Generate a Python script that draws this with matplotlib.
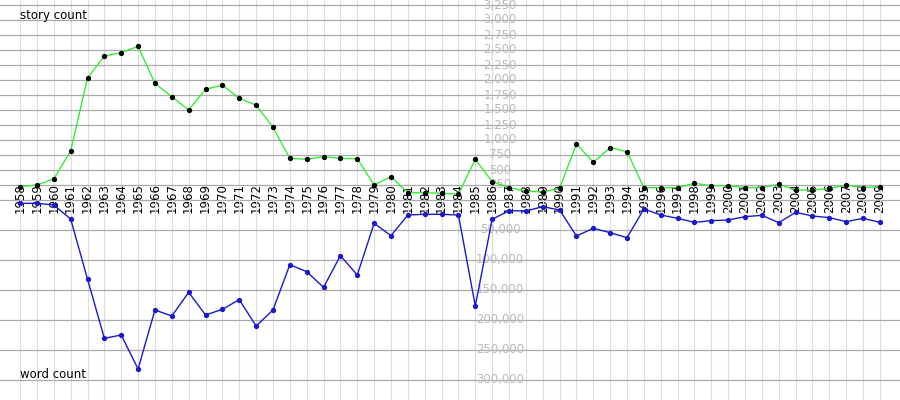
import numpy as np
import matplotlib
matplotlib.use("Agg")
import matplotlib.pyplot as plt

# datos
years = list(range(1958, 2010))
story_count = [222, 250, 350, 817, 2033, 2400, 2456, 2561, 1944, 1722,
               1500, 1844, 1917, 1694, 1583, 1211, 694, 678, 722, 694,
               689, 250, 389, 122, 122, 111, 100, 678, 306, 206,
               150, 133, 194, 933, 628, 872, 806, 206, 206, 206,
               278, 239, 239, 206, 206, 261, 167, 167, 194, 250,
               206, 222]
word_count = [5556, 5556, 8333, 31667, 131667, 230556, 225000, 281667, 183333, 193333,
              153889, 191667, 182222, 166111, 210000, 183333, 107778, 119444, 145556, 92778,
              125000, 38889, 59444, 25000, 23889, 23889, 25000, 176667, 32222, 17778,
              18333, 11111, 16667, 60000, 47222, 54444, 62778, 15000, 25000, 30556,
              37222, 34444, 33333, 27778, 25556, 37778, 20556, 26667, 29444, 36111,
              30556, 37222]
story_ticks = list(range(0, 3251, 250))
word_ticks = list(range(50000, 300001, 50000))

fig = plt.figure(figsize=(9, 4), dpi=100)
ax_top = fig.add_axes([0, 0.5, 1, 0.5])
ax_bot = fig.add_axes([0, 0, 1, 0.5])

xmin, xmax = 1956.81, 2010.19
for ax in (ax_top, ax_bot):
    ax.set_xlim(xmin, xmax)
    ax.patch.set_visible(False)
    for s in ax.spines.values():
        s.set_visible(False)
    ax.set_xticks([])
    ax.set_yticks([])
    for y in years:
        ax.axvline(y, color="#dddddd", lw=0.8, zorder=0)

ax_top.set_ylim(0, 200 / 0.06)
ax_bot.set_ylim(200 / 0.0006, 0)

# lineas horizontales y etiquetas de eje
for v in story_ticks:
    ax_top.axhline(v, color="#aaaaaa", lw=0.9, zorder=0.5, clip_on=False)
    if v > 0:
        ax_top.text(500 / 900, v, f"{v:,}", transform=ax_top.get_yaxis_transform(),
                    ha="center", va="center", color="#bbbbbb", fontsize=8.5, zorder=1)
for v in word_ticks:
    ax_bot.axhline(v, color="#aaaaaa", lw=0.9, zorder=0.5)
    ax_bot.text(500 / 900, v, f"{v:,}", transform=ax_bot.get_yaxis_transform(),
                ha="center", va="center", color="#bbbbbb", fontsize=8.5, zorder=1)

# etiquetas de anios
for y in years:
    ax_top.text(y, 0.01, str(y), transform=ax_top.get_xaxis_transform(),
                rotation=90, ha="center", va="center", fontsize=8.5,
                color="black", zorder=1.5)

ax_top.plot(years, story_count, color="#33ee33", lw=1, marker="o", ms=2.8,
            mfc="black", mec="black", clip_on=False, zorder=3)
ax_bot.plot(years, word_count, color="#1a1acc", lw=1, marker="o", ms=2.8,
            mfc="#1a1acc", mec="#1a1acc", clip_on=False, zorder=3)

ax_top.text(20 / 900, 0.92, "story count", transform=ax_top.transAxes,
            ha="left", va="center", fontsize=8.5)
ax_bot.text(20 / 900, 0.125, "word count", transform=ax_bot.transAxes,
            ha="left", va="center", fontsize=8.5)

fig.savefig("out.png", dpi=100)
